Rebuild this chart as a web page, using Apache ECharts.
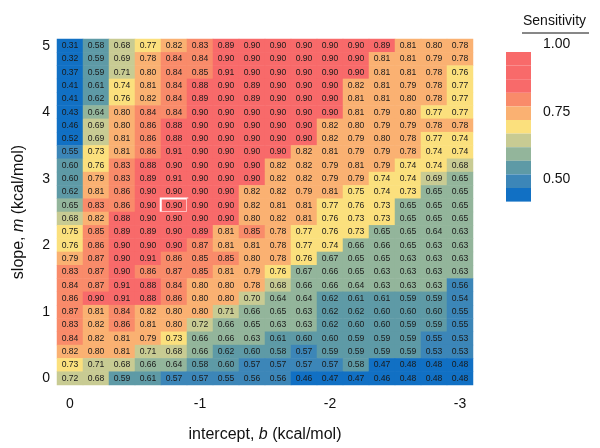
<!DOCTYPE html>
<html>
<head>
<meta charset="utf-8">
<script src="https://cdn.jsdelivr.net/npm/echarts@6/dist/echarts.min.js"></script>
<style>
  html, body { margin: 0; padding: 0; background: #fff; }
  #chart { width: 600px; height: 448px; }
</style>
</head>
<body>
<div id="chart"></div>
<script>
// intercept b (columns, left to right) and slope m (rows, bottom to top)
const intercepts = ['0', '-0.2', '-0.4', '-0.6', '-0.8', '-1', '-1.2', '-1.4', '-1.6', '-1.8', '-2', '-2.2', '-2.4', '-2.6', '-2.8', '-3'];
const slopes = ['0', '0.2', '0.4', '0.6', '0.8', '1', '1.2', '1.4', '1.6', '1.8', '2', '2.2', '2.4', '2.6', '2.8', '3', '3.2', '3.4', '3.6', '3.8', '4', '4.2', '4.4', '4.6', '4.8', '5'];
const colorTicks = ['1.00', '0.75', '0.50'];

// sensitivity, rows from slope 5.0 (top) down to 0.0 (bottom)
const sensitivity = [
  [0.31, 0.58, 0.68, 0.77, 0.82, 0.83, 0.89, 0.90, 0.90, 0.90, 0.90, 0.90, 0.89, 0.81, 0.80, 0.78],
  [0.32, 0.59, 0.69, 0.78, 0.84, 0.84, 0.90, 0.90, 0.90, 0.90, 0.90, 0.90, 0.81, 0.81, 0.79, 0.78],
  [0.37, 0.59, 0.71, 0.80, 0.84, 0.85, 0.91, 0.90, 0.90, 0.90, 0.90, 0.90, 0.81, 0.81, 0.78, 0.76],
  [0.41, 0.61, 0.74, 0.81, 0.84, 0.88, 0.90, 0.89, 0.90, 0.90, 0.90, 0.82, 0.81, 0.79, 0.78, 0.77],
  [0.41, 0.62, 0.76, 0.82, 0.84, 0.89, 0.90, 0.89, 0.90, 0.90, 0.90, 0.81, 0.81, 0.80, 0.78, 0.77],
  [0.43, 0.64, 0.80, 0.84, 0.84, 0.90, 0.90, 0.90, 0.90, 0.90, 0.90, 0.81, 0.79, 0.80, 0.77, 0.77],
  [0.46, 0.69, 0.80, 0.86, 0.88, 0.90, 0.90, 0.90, 0.90, 0.90, 0.82, 0.80, 0.79, 0.79, 0.78, 0.78],
  [0.52, 0.69, 0.81, 0.86, 0.88, 0.90, 0.90, 0.90, 0.90, 0.90, 0.82, 0.79, 0.80, 0.78, 0.77, 0.74],
  [0.55, 0.73, 0.81, 0.86, 0.91, 0.90, 0.90, 0.90, 0.90, 0.82, 0.81, 0.79, 0.79, 0.78, 0.74, 0.74],
  [0.60, 0.76, 0.83, 0.88, 0.90, 0.90, 0.90, 0.90, 0.82, 0.82, 0.79, 0.81, 0.79, 0.74, 0.74, 0.68],
  [0.60, 0.79, 0.83, 0.89, 0.91, 0.90, 0.90, 0.90, 0.82, 0.82, 0.79, 0.79, 0.74, 0.74, 0.69, 0.65],
  [0.62, 0.81, 0.86, 0.90, 0.90, 0.90, 0.90, 0.82, 0.82, 0.79, 0.81, 0.75, 0.74, 0.73, 0.65, 0.65],
  [0.65, 0.83, 0.86, 0.90, 0.90, 0.90, 0.90, 0.82, 0.81, 0.81, 0.77, 0.76, 0.73, 0.65, 0.65, 0.65],
  [0.68, 0.82, 0.88, 0.90, 0.90, 0.90, 0.90, 0.80, 0.82, 0.81, 0.76, 0.73, 0.73, 0.65, 0.65, 0.65],
  [0.75, 0.85, 0.89, 0.89, 0.90, 0.89, 0.81, 0.85, 0.78, 0.77, 0.76, 0.73, 0.65, 0.65, 0.64, 0.63],
  [0.76, 0.86, 0.90, 0.90, 0.90, 0.87, 0.81, 0.81, 0.78, 0.77, 0.74, 0.66, 0.66, 0.65, 0.63, 0.63],
  [0.79, 0.87, 0.90, 0.91, 0.86, 0.85, 0.85, 0.80, 0.78, 0.76, 0.67, 0.65, 0.65, 0.63, 0.63, 0.63],
  [0.83, 0.87, 0.90, 0.86, 0.87, 0.85, 0.81, 0.79, 0.76, 0.67, 0.66, 0.65, 0.63, 0.63, 0.63, 0.63],
  [0.84, 0.87, 0.91, 0.88, 0.84, 0.80, 0.80, 0.78, 0.68, 0.66, 0.66, 0.64, 0.63, 0.63, 0.63, 0.56],
  [0.86, 0.90, 0.91, 0.88, 0.86, 0.80, 0.80, 0.70, 0.64, 0.64, 0.62, 0.61, 0.61, 0.59, 0.59, 0.54],
  [0.87, 0.81, 0.84, 0.82, 0.80, 0.80, 0.71, 0.66, 0.65, 0.63, 0.62, 0.62, 0.60, 0.60, 0.60, 0.55],
  [0.83, 0.82, 0.86, 0.81, 0.80, 0.72, 0.66, 0.65, 0.63, 0.63, 0.62, 0.60, 0.60, 0.59, 0.59, 0.55],
  [0.84, 0.82, 0.81, 0.79, 0.73, 0.66, 0.66, 0.63, 0.61, 0.60, 0.60, 0.59, 0.59, 0.59, 0.55, 0.53],
  [0.82, 0.80, 0.81, 0.71, 0.68, 0.66, 0.62, 0.60, 0.58, 0.57, 0.59, 0.59, 0.59, 0.59, 0.53, 0.53],
  [0.73, 0.71, 0.68, 0.66, 0.64, 0.58, 0.60, 0.57, 0.57, 0.57, 0.57, 0.58, 0.47, 0.48, 0.48, 0.48],
  [0.72, 0.68, 0.59, 0.61, 0.57, 0.57, 0.55, 0.56, 0.56, 0.46, 0.47, 0.47, 0.46, 0.48, 0.48, 0.48]
];

// highlighted cell: b = -0.8, m = 2.6
const highlight = { b: '-0.8', m: '2.6' };

const fontFam = '"Liberation Sans", Arial, sans-serif';

const data = [];
sensitivity.forEach((row, r) => {
  const yi = slopes.length - 1 - r;
  row.forEach((v, xi) => {
    const item = { value: [xi, yi, v] };
    if (intercepts[xi] === highlight.b && slopes[yi] === highlight.m) {
      item.itemStyle = { borderColor: '#fff', borderWidth: 2 };
    }
    data.push(item);
  });
});

const chart = echarts.init(document.getElementById('chart'));

const option = {
  backgroundColor: '#fff',
  animation: false,
  grid: { left: 57, right: 127, top: 39, bottom: 58 },
  xAxis: {
    type: 'category',
    data: intercepts,
    axisLine: { show: false },
    axisTick: { show: false },
    splitArea: { show: false },
    axisLabel: {
      interval: 4,
      margin: 12,
      fontSize: 14,
      color: '#111',
      fontFamily: fontFam
    },
    name: '{t|intercept, }{i|b}{t| (kcal/mol)}',
    nameLocation: 'middle',
    nameGap: 42,
    nameTextStyle: {
      rich: {
        t: { fontSize: 16, color: '#111', fontFamily: fontFam },
        i: { fontSize: 16, color: '#111', fontFamily: fontFam, fontStyle: 'italic' }
      }
    }
  },
  yAxis: {
    type: 'category',
    data: slopes,
    axisLine: { show: false },
    axisTick: { show: false },
    axisLabel: {
      interval: 4,
      margin: 7,
      fontSize: 14,
      color: '#111',
      fontFamily: fontFam
    },
    name: '{t|slope, }{i|m}{t| (kcal/mol)}',
    nameLocation: 'middle',
    nameGap: 30,
    nameTextStyle: {
      rich: {
        t: { fontSize: 16, color: '#111', fontFamily: fontFam },
        i: { fontSize: 16, color: '#111', fontFamily: fontFam, fontStyle: 'italic' }
      }
    }
  },
  visualMap: {
    type: 'piecewise',
    orient: 'vertical',
    left: 491,
    top: 37,
    itemWidth: 25,
    itemHeight: 13.6,
    itemGap: 0,
    itemSymbol: 'rect',
    showLabel: false,
    selectedMode: false,
    hoverLink: false,
    dimension: 2,
    pieces: [
      { lt: 0.525, color: '#1170c4' },
      { gte: 0.525, lt: 0.575, color: '#3c86b8' },
      { gte: 0.575, lt: 0.625, color: '#5e9aa6' },
      { gte: 0.625, lt: 0.675, color: '#93b59b' },
      { gte: 0.675, lt: 0.725, color: '#c8cb93' },
      { gte: 0.725, lt: 0.775, color: '#fbe07d' },
      { gte: 0.775, lt: 0.825, color: '#fab172' },
      { gte: 0.825, lt: 0.875, color: '#f98b6a' },
      { gte: 0.875, lt: 0.925, color: '#f86a6a' },
      { gte: 0.925, lt: 0.975, color: '#f86a6a' },
      { gte: 0.975, color: '#f86a6a' }
    ]
  },
  graphic: [
    { type: 'text', left: 523, top: 14, style: { text: 'Sensitivity', fontSize: 14, fill: '#111', fontFamily: fontFam } },
    { type: 'line', shape: { x1: 522, y1: 33, x2: 589, y2: 33 }, style: { stroke: '#111', lineWidth: 1 } },
    { type: 'text', left: 543, top: 37, style: { text: colorTicks[0], fontSize: 14, fill: '#111', fontFamily: fontFam } },
    { type: 'text', left: 543, top: 105, style: { text: colorTicks[1], fontSize: 14, fill: '#111', fontFamily: fontFam } },
    { type: 'text', left: 543, top: 172, style: { text: colorTicks[2], fontSize: 14, fill: '#111', fontFamily: fontFam } }
  ],
  series: [
    {
      type: 'heatmap',
      data: data,
      label: {
        show: true,
        fontSize: 8.6,
        color: '#1a1a1a',
        fontFamily: fontFam,
        formatter: p => p.value[2].toFixed(2)
      },
      emphasis: { disabled: true }
    }
  ]
};

chart.setOption(option);
</script>
</body>
</html>
